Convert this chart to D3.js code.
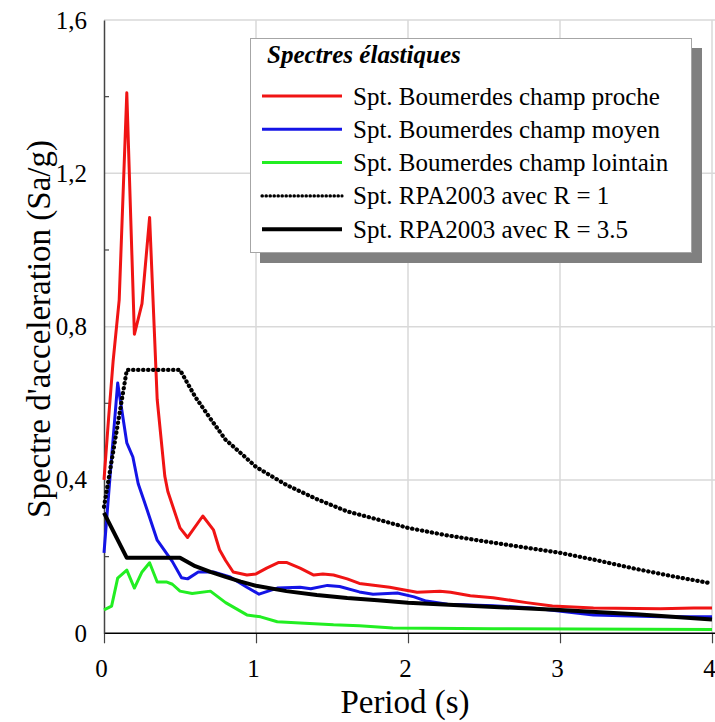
<!DOCTYPE html>
<html>
<head>
<meta charset="utf-8">
<script src="https://cdn.jsdelivr.net/npm/d3@7"></script>
<style>
  body { margin: 0; background: #fff; }
  svg, svg text { font-family: "Liberation Serif", "Times New Roman", Times, "DejaVu Serif", serif; }
</style>
</head>
<body>
<svg width="715" height="722"></svg>
<script>
// periods (s) and Sa/g values
const prochePeriods = [0, 0.03, 0.06, 0.1, 0.15, 0.2, 0.25, 0.3, 0.35, 0.4, 0.42, 0.5, 0.55, 0.65, 0.72, 0.76, 0.8, 0.85, 0.94, 1.0, 1.07, 1.15, 1.2, 1.29, 1.38, 1.44, 1.51, 1.6, 1.68, 1.88, 1.95, 2.06, 2.21, 2.28, 2.41, 2.56, 2.78, 2.95, 3.22, 3.66, 3.88, 4.0];
const procheValues  = [0.40, 0.56, 0.71, 0.87, 1.41, 0.78, 0.86, 1.085, 0.61, 0.41, 0.37, 0.275, 0.25, 0.306, 0.27, 0.218, 0.19, 0.16, 0.152, 0.155, 0.17, 0.185, 0.185, 0.17, 0.152, 0.155, 0.152, 0.142, 0.13, 0.12, 0.115, 0.107, 0.11, 0.107, 0.098, 0.093, 0.08, 0.071, 0.066, 0.064, 0.066, 0.066];

const moyenPeriods = [0, 0.04, 0.09, 0.15, 0.19, 0.225, 0.26, 0.35, 0.45, 0.51, 0.55, 0.62, 0.72, 0.83, 0.94, 1.02, 1.14, 1.29, 1.36, 1.47, 1.55, 1.68, 1.77, 1.93, 2.04, 2.12, 2.26, 2.56, 2.82, 3.22, 3.66, 4.0];
const moyenValues  = [0.21, 0.41, 0.653, 0.497, 0.46, 0.39, 0.35, 0.243, 0.187, 0.145, 0.142, 0.16, 0.16, 0.147, 0.12, 0.102, 0.118, 0.12, 0.116, 0.125, 0.122, 0.108, 0.102, 0.105, 0.095, 0.084, 0.076, 0.072, 0.066, 0.048, 0.043, 0.043];

const lointainPeriods = [0, 0.05, 0.09, 0.15, 0.2, 0.25, 0.3, 0.35, 0.41, 0.45, 0.5, 0.58, 0.7, 0.8, 0.94, 1.03, 1.14, 1.29, 1.51, 1.68, 1.9, 2.56, 4.0];
const lointainValues  = [0.061, 0.071, 0.144, 0.165, 0.118, 0.16, 0.184, 0.134, 0.134, 0.128, 0.11, 0.104, 0.11, 0.08, 0.048, 0.043, 0.03, 0.027, 0.022, 0.02, 0.014, 0.012, 0.01];

const rpa1Periods = [0, 0.15, 0.5, 0.6, 0.7, 0.8, 0.9, 1.0, 1.2, 1.4, 1.6, 1.8, 2.0, 2.25, 2.5, 2.75, 3.0, 3.25, 3.5, 3.75, 4.0];
const rpa1Values  = [0.33, 0.687, 0.687, 0.617, 0.56, 0.505, 0.47, 0.434, 0.387, 0.35, 0.318, 0.297, 0.275, 0.256, 0.24, 0.225, 0.21, 0.19, 0.168, 0.148, 0.13];

const rpa35Periods = [0, 0.15, 0.5, 0.6, 0.7, 0.8, 0.9, 1.0, 1.2, 1.4, 1.6, 1.8, 2.0, 2.5, 3.0, 3.5, 4.0];
const rpa35Values  = [0.314, 0.197, 0.197, 0.175, 0.16, 0.147, 0.135, 0.124, 0.11, 0.1, 0.092, 0.086, 0.08, 0.07, 0.061, 0.05, 0.036];

const xTicks = [0, 1, 2, 3, 4];
const yTicks = [0, 0.4, 0.8, 1.2, 1.6];
const yMinorTicks = [0.2, 0.6, 1.0, 1.4];

const legendTitle = 'Spectres élastiques';
const legendLabels = [
    'Spt. Boumerdes champ proche',
    'Spt. Boumerdes champ moyen',
    'Spt. Boumerdes champ lointain',
    'Spt. RPA2003 avec R = 1',
    'Spt. RPA2003 avec R = 3.5'
];

const FONT = '"Liberation Serif", "Times New Roman", Times, "DejaVu Serif", serif';

const series = [
    { periods: prochePeriods, values: procheValues, color: '#f01414', width: 3 },
    { periods: moyenPeriods, values: moyenValues, color: '#1414e6', width: 3 },
    { periods: lointainPeriods, values: lointainValues, color: '#22ee22', width: 3 },
    { periods: rpa1Periods, values: rpa1Values, color: '#000', width: 4.2, dash: '0.4 4.6' },
    { periods: rpa35Periods, values: rpa35Values, color: '#000', width: 4 }
];

const svg = d3.select('svg');

const x = d3.scaleLinear().domain([0, 4]).range([104, 712]);
const y = d3.scaleLinear().domain([0, 1.6]).range([633.3, 20]);

// grid
svg.append('g')
    .selectAll('line')
    .data(yTicks.filter(d => d > 0))
    .enter().append('line')
    .attr('x1', x(0)).attr('x2', 715)
    .attr('y1', d => y(d)).attr('y2', d => y(d))
    .attr('stroke', '#d9d9d9').attr('stroke-width', 1.5);

svg.append('g')
    .selectAll('line')
    .data(xTicks.filter(d => d > 0))
    .enter().append('line')
    .attr('x1', d => x(d)).attr('x2', d => x(d))
    .attr('y1', y(0)).attr('y2', y(1.6))
    .attr('stroke', '#d9d9d9').attr('stroke-width', 1.5);

// axes
const xAxis = d3.axisBottom(x).tickValues(xTicks).tickSize(10).tickPadding(16).tickFormat(d3.format('d'));
const gx = svg.append('g').attr('transform', `translate(0,${y(0)})`).call(xAxis)
    .attr('font-family', FONT);
gx.select('.domain').remove();
gx.append('line').attr('x1', x(0)).attr('x2', 715).attr('stroke', '#000').attr('stroke-width', 1.5);
gx.selectAll('.tick line').attr('stroke', '#444').attr('stroke-width', 1.2);
gx.selectAll('.tick text')
    .attr('font-size', 25).attr('fill', '#000')
    .attr('dx', -3);

const yAxis = d3.axisLeft(y).tickValues(yTicks).tickSize(0).tickPadding(17)
    .tickFormat(d => d3.format('.1f')(d).replace('.', ',').replace(/^0,0$/, '0'));
const gy = svg.append('g').attr('transform', `translate(${x(0)},0)`).call(yAxis)
    .attr('font-family', FONT);
gy.select('.domain').attr('stroke', '#444').attr('stroke-width', 1.5);
gy.selectAll('.tick text')
    .attr('font-size', 25).attr('fill', '#000');

gy.selectAll('line.minor')
    .data(yMinorTicks)
    .enter().append('line')
    .attr('class', 'minor')
    .attr('x1', 0).attr('x2', 5)
    .attr('y1', d => y(d)).attr('y2', d => y(d))
    .attr('stroke', '#444').attr('stroke-width', 1.2);

// axis titles
svg.append('text')
    .attr('x', 405).attr('y', 713)
    .attr('text-anchor', 'middle')
    .attr('font-family', FONT)
    .attr('font-size', 33)
    .text('Period (s)');

svg.append('text')
    .attr('transform', 'translate(50,329) rotate(-90)')
    .attr('text-anchor', 'middle')
    .attr('font-family', FONT)
    .attr('font-size', 33)
    .text("Spectre d'acceleration (Sa/g)");

// curves
const line = d3.line()
    .x(d => x(d[0]))
    .y(d => y(d[1]));

svg.append('g')
    .selectAll('path')
    .data(series)
    .enter().append('path')
    .attr('d', s => line(s.periods.map((p, i) => [p, s.values[i]])))
    .attr('fill', 'none')
    .attr('stroke', s => s.color)
    .attr('stroke-width', s => s.width)
    .attr('stroke-dasharray', s => s.dash || null)
    .attr('stroke-linecap', s => s.dash ? 'round' : 'butt')
    .attr('stroke-linejoin', 'round');

// legend
const legend = svg.append('g').attr('font-family', FONT);
legend.append('rect')
    .attr('x', 260).attr('y', 48).attr('width', 442).attr('height', 215)
    .attr('fill', '#808080');
legend.append('rect')
    .attr('x', 250.5).attr('y', 38.5).attr('width', 441).attr('height', 214)
    .attr('fill', '#fff').attr('stroke', '#a6a6a6').attr('stroke-width', 1);
legend.append('text')
    .attr('x', 267).attr('y', 63)
    .attr('font-size', 25).attr('font-weight', 'bold').attr('font-style', 'italic')
    .text(legendTitle);

const rows = legend.selectAll('g.row')
    .data(series)
    .enter().append('g')
    .attr('class', 'row')
    .attr('transform', (d, i) => `translate(0,${96 + i * 33.3})`);

rows.append('line')
    .attr('x1', 262).attr('x2', 342)
    .attr('stroke', s => s.color)
    .attr('stroke-width', s => s.dash ? 3.2 : s.width)
    .attr('stroke-dasharray', s => s.dash ? '0.4 3.6' : null)
    .attr('stroke-linecap', s => s.dash ? 'round' : 'butt');

rows.append('text')
    .attr('x', 353).attr('y', 8.5)
    .attr('font-size', 25)
    .text((d, i) => legendLabels[i]);
</script>
</body>
</html>
